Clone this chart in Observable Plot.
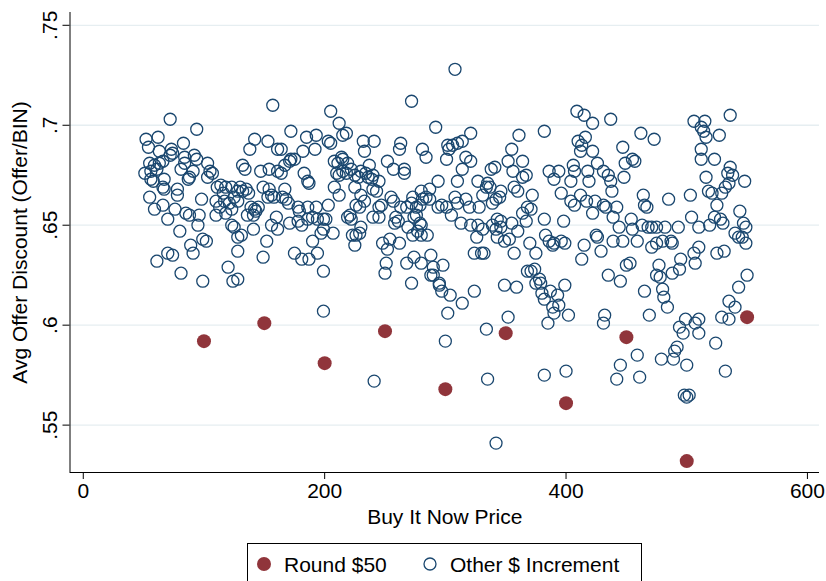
<!DOCTYPE html>
<html>
<head>
<meta charset="utf-8">
<script src="https://cdn.jsdelivr.net/npm/d3@7"></script>
<script src="https://cdn.jsdelivr.net/npm/@observablehq/plot@0.6"></script>
<style>
  html, body { margin: 0; padding: 0; background: #fff; }
  body { width: 826px; height: 581px; overflow: hidden; position: relative; font-family: "Liberation Sans", Arial, sans-serif; }
  #legend { position: absolute; left: 247px; top: 543px; width: 393px; height: 44px; border: 1px solid #000; background: #fff; }
</style>
</head>
<body>
<div id="chart"></div>
<div id="legend"></div>
<script>
// ---- data ----
const xTicks = [0, 200, 400, 600];
const yTicks = [0.55, 0.6, 0.65, 0.7, 0.75];
const seriesNames = ["Round $50", "Other $ Increment"];
const xLabel = "Buy It Now Price";
const yLabel = "Avg Offer Discount (Offer/BIN)";

// Round $50 BIN prices: [price, avg offer / BIN]
const roundPoints = [
  [100, 0.592], [150, 0.601], [200, 0.581], [250, 0.597], [300, 0.568],
  [350, 0.596], [400, 0.561], [450, 0.594], [500, 0.532], [550, 0.604]
];

// Other $ increments: [price, avg offer / BIN]
const otherPoints = [
  [72,.703],[94,.698],[52,.693],[62,.694],[54,.689],[83,.691],[63,.687],[73,.688],[74,.686],[72,.685],
  [84,.684],[92,.685],[94,.683],[55,.681],[59,.680],[63,.681],[66,.682],[51,.676],[56,.677],[61,.678],
  [81,.678],[84,.681],[91,.677],[103,.681],[105,.677],[107,.676],[103,.674],[56,.673],[58,.672],[67,.673],
  [87,.673],[88,.674],[66,.669],[67,.668],[78,.668],[78,.665],[114,.670],[118,.669],[123,.669],[128,.667],
  [55,.664],[66,.660],[59,.658],[76,.658],[98,.663],[85,.656],[88,.655],[96,.655],[111,.669],[116,.666],
  [125,.664],[110,.662],[117,.662],[121,.661],[113,.659],[123,.658],[110,.655],[118,.656],[128,.662],[70,.653],
  [95,.650],[80,.647],[99,.643],[102,.642],[89,.640],[91,.636],[70,.636],[74,.635],[61,.632],[81,.626],
  [99,.622],[120,.629],[124,.622],[128,.623],[125,.649],[123,.650],[128,.644],[128,.637],
  [157,.710],[205,.707],[212,.701],[172,.697],[185,.694],[193,.695],[203,.692],[205,.691],[215,.695],[142,.693],
  [153,.692],[138,.688],[161,.688],[164,.688],[182,.687],[192,.688],[172,.683],[175,.683],[171,.682],[167,.680],
  [132,.680],[134,.678],[147,.677],[154,.678],[161,.677],[164,.676],[183,.676],[186,.672],[187,.671],[208,.682],
  [211,.681],[214,.684],[215,.683],[210,.676],[212,.675],[215,.677],[208,.669],[212,.665],[130,.669],[132,.667],
  [135,.668],[137,.666],[149,.669],[154,.668],[156,.665],[158,.664],[153,.664],[167,.668],[165,.664],[168,.663],
  [170,.661],[178,.659],[179,.657],[186,.659],[193,.659],[203,.660],[139,.659],[142,.658],[145,.659],[143,.657],
  [141,.655],[136,.655],[160,.654],[156,.650],[161,.648],[171,.651],[178,.652],[181,.650],[186,.653],[190,.654],
  [194,.653],[199,.653],[201,.653],[141,.648],[131,.645],[152,.642],[190,.642],[197,.646],[199,.648],[207,.646],
  [149,.634],[175,.636],[181,.633],[187,.633],[194,.636],[199,.627],[199,.607],
  [272,.712],[292,.699],[218,.696],[232,.692],[241,.692],[233,.687],[263,.691],[262,.688],[281,.688],[284,.684],
  [302,.690],[301,.683],[252,.682],[257,.678],[266,.678],[266,.676],[219,.681],[222,.678],[218,.676],[237,.680],
  [230,.677],[234,.676],[236,.674],[240,.675],[239,.673],[228,.674],[225,.675],[245,.672],[294,.672],[240,.668],
  [243,.667],[225,.669],[230,.665],[280,.667],[287,.668],[284,.664],[281,.663],[287,.663],[255,.664],[257,.662],
  [273,.664],[272,.661],[276,.659],[279,.660],[268,.659],[263,.659],[247,.660],[245,.659],[226,.660],[229,.659],
  [233,.662],[221,.655],[222,.653],[219,.654],[240,.654],[245,.654],[259,.654],[258,.651],[261,.652],[276,.655],
  [274,.654],[279,.651],[280,.650],[294,.659],[297,.660],[301,.659],[305,.655],[230,.649],[229,.646],[223,.645],
  [226,.645],[225,.640],[269,.649],[273,.645],[277,.647],[280,.645],[285,.645],[248,.641],[254,.643],[252,.638],
  [262,.641],[251,.631],[250,.626],[268,.631],[274,.634],[280,.631],[288,.635],[290,.629],[298,.630],[288,.625],
  [272,.621],[295,.621],[308,.728],
  [382,.697],[321,.696],[361,.695],[314,.692],[310,.691],[306,.690],[303,.688],[355,.688],[317,.684],[321,.682],
  [314,.678],[352,.682],[364,.682],[338,.678],[341,.679],[356,.677],[364,.674],[367,.675],[386,.677],[390,.673],
  [310,.672],[327,.672],[335,.671],[337,.669],[334,.669],[357,.669],[360,.667],[331,.665],[346,.667],[345,.664],
  [339,.661],[342,.663],[372,.665],[308,.664],[310,.661],[317,.663],[320,.659],[328,.659],[368,.659],[371,.658],
  [364,.656],[367,.652],[313,.651],[382,.653],[343,.653],[346,.652],[339,.650],[342,.648],[346,.649],[355,.651],
  [321,.650],[327,.650],[331,.648],[360,.647],[326,.644],[343,.644],[349,.642],[353,.643],[383,.645],[386,.642],
  [389,.640],[370,.641],[324,.636],[330,.636],[332,.636],[357,.636],[375,.636],[368,.627],[371,.627],[374,.628],
  [378,.623],[375,.621],[379,.621],[349,.620],[359,.619],[324,.617],
  [241,.572],[300,.592],[334,.598],[335,.573],[342,.541],[352,.604],[302,.606],[304,.615],[297,.617],[295,.620],
  [314,.611],[290,.625],[382,.575],[400,.577],[385,.601],[402,.605],[390,.606],[389,.609],[394,.610],[382,.613],
  [380,.616],[387,.617],[393,.615],[399,.620],
  [431,.601],[432,.605],[445,.580],[442,.573],[459,.585],[461,.574],[450,.630],[453,.631],[445,.622],[435,.625],
  [465,.617],[469,.605],[477,.630],[478,.624],[480,.618],[481,.614],[484,.609],[479,.583],[489,.583],[490,.587],
  [492,.589],[494,.599],[497,.596],[499,.603],[500,.580],[498,.565],[500,.564],[502,.565],[507,.601],[510,.596],
  [510,.603],[494,.628],[495,.633],[488,.626],[507,.631],[506,.636],[510,.639],[524,.591],[532,.577],[529,.604],
  [535,.603],[535,.612],[540,.609],[543,.619],[550,.625],[525,.636],[531,.637],[510,.649],[504,.654],[503,.665],
  [506,.702],[515,.702],[512,.699],[514,.697],[516,.694],[527,.695],[512,.688],[512,.683],[523,.683],[516,.674],
  [518,.667],[521,.666],[525,.660],[523,.654],[536,.705],
  [409,.707],[415,.705],[422,.701],[410,.692],[413,.690],[412,.687],[416,.694],[422,.687],[406,.680],[407,.677],
  [418,.677],[404,.672],[419,.672],[412,.665],[404,.662],[407,.660],[417,.662],[422,.656],[424,.662],[396,.666],
  [394,.677],[398,.652],[390,.641],[396,.642],[399,.641],[415,.640],[426,.644],[425,.645],[413,.633],[429,.637],
  [426,.681],[431,.677],[435,.675],[437,.672],[437,.703],[447,.689],[438,.667],[431,.660],[433,.659],[442,.659],
  [439,.654],[444,.649],[439,.642],[447,.642],[449,.681],[455,.683],[457,.682],[448,.674],[462,.696],[454,.653],
  [455,.648],[459,.642],[464,.665],[465,.660],[467,.659],[463,.650],[468,.649],[471,.649],[475,.649],[473,.693],
  [471,.639],[475,.641],[480,.642],[482,.649],[485,.663],[487,.642],[488,.641],[493,.649],[475,.625],
  [519,.650],[529,.666],[532,.669],[535,.671],[538,.675],[534,.676],[548,.672],[536,.679],[528,.653],[530,.651],
  [540,.646],[543,.644],[546,.644],[547,.651],[549,.649],[549,.641],[544,.657]
];

// ---- styling ----
const navy = "#1a476f";
const maroon = "#90353b";
const gridColor = "#e6eef1";
const fontFamily = "'Liberation Sans', Arial, sans-serif";
const fmt = d => String(+d.toFixed(2)).replace(/^0/, "");

const xDomain = [-11, 610];
const yDomain = [0.5263, 0.7564];

const chart = Plot.plot({
  width: 826,
  height: 540,
  marginLeft: 69.5,
  marginRight: 7,
  marginTop: 12,
  marginBottom: 68,
  style: { fontFamily, fontSize: "21px", color: "#000", background: "#fff", overflow: "visible" },
  x: { domain: xDomain, axis: null },
  y: { domain: yDomain, axis: null },
  marks: [
    Plot.ruleY(yTicks, { stroke: gridColor, strokeWidth: 1.3 }),
    Plot.axisX({ ticks: xTicks, tickSize: 7, tickPadding: 4, label: null, stroke: "#000" }),
    Plot.axisY({ ticks: yTicks, tickSize: 7, tickPadding: 6, tickRotate: -90, tickFormat: fmt, label: null, stroke: "#000" }),
    Plot.ruleX([xDomain[0]], { stroke: "#000", strokeWidth: 1 }),
    Plot.ruleY([yDomain[0]], { stroke: "#000", strokeWidth: 1 }),
    Plot.dot(otherPoints, { x: d => d[0], y: d => d[1], r: 6, stroke: navy, strokeWidth: 1.3, fill: "none" }),
    Plot.dot(roundPoints, { x: d => d[0], y: d => d[1], r: 7, fill: maroon, stroke: "none" }),
    Plot.text([xLabel], { frameAnchor: "bottom", dy: 45, lineAnchor: "middle", textAnchor: "middle", fontSize: 21, fill: "#000" }),
    Plot.text([yLabel], { frameAnchor: "left", dx: -50, rotate: -90, lineAnchor: "middle", textAnchor: "middle", fontSize: 21, fill: "#000" })
  ]
});
document.getElementById("chart").appendChild(chart);

// ---- legend (below the SVG) ----
const ns = "http://www.w3.org/2000/svg";
const lg = document.createElementNS(ns, "svg");
lg.setAttribute("width", 393);
lg.setAttribute("height", 44);
lg.style.fontFamily = fontFamily;
lg.style.fontSize = "21px";
const items = [
  { sym: "fill", cx: 16, tx: 36, label: seriesNames[0] },
  { sym: "hollow", cx: 182, tx: 202, label: seriesNames[1] }
];
for (const it of items) {
  const c = document.createElementNS(ns, "circle");
  c.setAttribute("cx", it.cx);
  c.setAttribute("cy", 20);
  if (it.sym === "fill") { c.setAttribute("r", 7); c.setAttribute("fill", maroon); }
  else { c.setAttribute("r", 6); c.setAttribute("fill", "none"); c.setAttribute("stroke", navy); c.setAttribute("stroke-width", 1.3); }
  lg.appendChild(c);
  const t = document.createElementNS(ns, "text");
  t.setAttribute("x", it.tx);
  t.setAttribute("y", 27.5);
  t.setAttribute("fill", "#000");
  t.textContent = it.label;
  lg.appendChild(t);
}
document.getElementById("legend").appendChild(lg);
</script>
</body>
</html>
